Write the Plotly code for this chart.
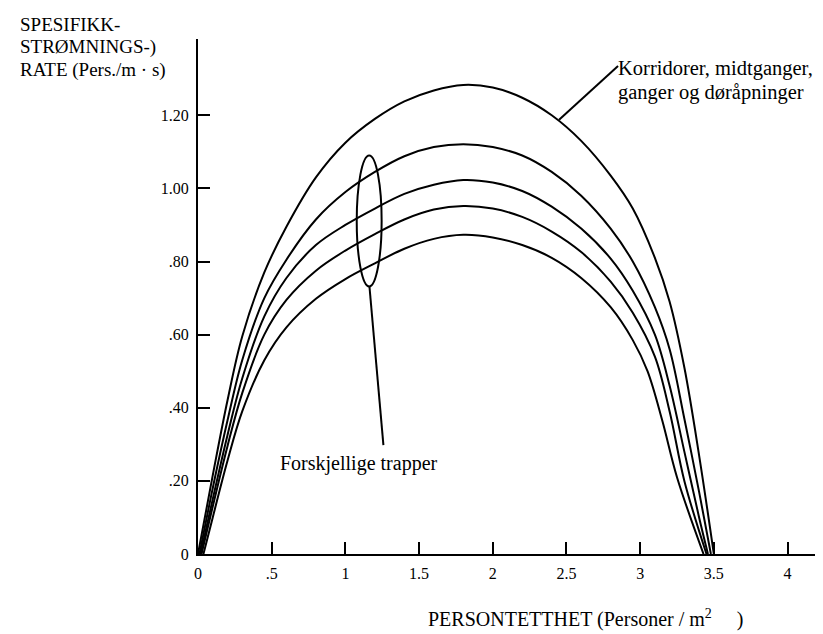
import plotly.graph_objects as go

# ---- tick labels ----
x_tick_vals = [0, 0.5, 1, 1.5, 2, 2.5, 3, 3.5, 4]
x_tick_text = ["0", ".5", "1", "1.5", "2", "2.5", "3", "3.5", "4"]
y_tick_vals = [0, 0.2, 0.4, 0.6, 0.8, 1.0, 1.2]
y_tick_text = ["0", ".20", ".40", ".60", ".80", "1.00", "1.20"]

# ---- curves (density persons/m2 -> specific flow pers/m.s) ----
corridor_x = [0.0, 0.1, 0.2, 0.3, 0.45, 0.6, 0.8, 1.0, 1.2, 1.4, 1.6, 1.8, 2.0, 2.2, 2.4, 2.6, 2.8, 2.95, 3.1, 3.2, 3.3, 3.4, 3.5]
corridor_y = [0.0, 0.215, 0.42, 0.595, 0.77, 0.895, 1.03, 1.125, 1.19, 1.238, 1.268, 1.283, 1.276, 1.248, 1.2, 1.13, 1.035, 0.945, 0.81, 0.69, 0.51, 0.27, 0.0]

stair1_x = [0.01, 0.1, 0.2, 0.3, 0.45, 0.6, 0.8, 1.0, 1.2, 1.4, 1.6, 1.8, 2.0, 2.2, 2.4, 2.6, 2.8, 2.95, 3.1, 3.2, 3.3, 3.4, 3.48]
stair1_y = [0.0, 0.18, 0.365, 0.53, 0.70, 0.805, 0.915, 0.99, 1.045, 1.088, 1.113, 1.121, 1.113, 1.09, 1.045, 0.98, 0.89, 0.80, 0.675, 0.56, 0.37, 0.17, 0.0]

stair2_x = [0.017, 0.1, 0.2, 0.3, 0.45, 0.6, 0.8, 1.0, 1.2, 1.4, 1.6, 1.8, 2.0, 2.2, 2.4, 2.6, 2.8, 2.95, 3.1, 3.2, 3.3, 3.4, 3.46]
stair2_y = [0.0, 0.15, 0.325, 0.48, 0.65, 0.755, 0.845, 0.90, 0.945, 0.985, 1.01, 1.023, 1.016, 0.993, 0.95, 0.89, 0.808, 0.72, 0.60, 0.46, 0.28, 0.10, 0.0]

stair3_x = [0.024, 0.1, 0.2, 0.3, 0.45, 0.6, 0.8, 1.0, 1.2, 1.4, 1.6, 1.8, 2.0, 2.2, 2.4, 2.6, 2.8, 2.95, 3.1, 3.2, 3.3, 3.45]
stair3_y = [0.0, 0.13, 0.295, 0.44, 0.60, 0.695, 0.775, 0.83, 0.875, 0.915, 0.942, 0.952, 0.945, 0.922, 0.882, 0.826, 0.745, 0.66, 0.54, 0.39, 0.20, 0.0]

stair4_x = [0.037, 0.1, 0.2, 0.3, 0.45, 0.6, 0.8, 1.0, 1.2, 1.4, 1.6, 1.8, 2.0, 2.2, 2.4, 2.6, 2.8, 2.95, 3.05, 3.15, 3.25, 3.43]
stair4_y = [0.0, 0.10, 0.255, 0.39, 0.53, 0.62, 0.698, 0.752, 0.795, 0.835, 0.862, 0.873, 0.866, 0.845, 0.81, 0.755, 0.675, 0.585, 0.50, 0.365, 0.21, 0.0]

series = [
    (corridor_x, corridor_y),
    (stair1_x, stair1_y),
    (stair2_x, stair2_y),
    (stair3_x, stair3_y),
    (stair4_x, stair4_y),
]

FONT = "Liberation Serif, Times New Roman, serif"

fig = go.Figure()
for xs, ys in series:
    fig.add_trace(go.Scatter(
        x=xs, y=ys, mode="lines",
        line=dict(color="black", width=2, shape="spline", smoothing=1.0),
        showlegend=False, hoverinfo="skip",
    ))

# plot-area geometry (pixels)
L, R, T, B = 189.5, 820, 31, 546
W, H = 823, 634

def px(xp, yp):
    return (xp - L) / (R - L), (B - yp) / (B - T)

annotations = []
# y-axis title (three lines)
for text, yp in [("SPESIFIKK-", 16), ("STRØMNINGS-)", 39), ("RATE (Pers./m · s)", 62)]:
    ax, ay = px(9, yp)
    annotations.append(dict(text=text, x=ax, y=ay, xref="paper", yref="paper",
                            xanchor="left", yanchor="middle", showarrow=False,
                            font=dict(family=FONT, size=19, color="black")))
# x-axis title
ax, ay = px(578, 610)
annotations.append(dict(text="PERSONTETTHET (Personer / m<sup>2</sup>\u00a0\u00a0\u00a0\u00a0\u00a0)",
                        x=ax, y=ay, xref="paper", yref="paper",
                        xanchor="center", yanchor="middle", showarrow=False,
                        font=dict(family=FONT, size=20, color="black")))
# curve labels
for text, yp in [("Korridorer, midtganger,", 60), ("ganger og døråpninger", 85)]:
    ax, ay = px(608, yp)
    annotations.append(dict(text=text, x=ax, y=ay, xref="paper", yref="paper",
                            xanchor="left", yanchor="middle", showarrow=False,
                            font=dict(family=FONT, size=20.5, color="black")))
ax, ay = px(351, 455)
annotations.append(dict(text="Forskjellige trapper", x=ax, y=ay, xref="paper", yref="paper",
                        xanchor="center", yanchor="middle", showarrow=False,
                        font=dict(family=FONT, size=20, color="black")))

shapes = [
    dict(type="circle", xref="x", yref="y", x0=1.077, x1=1.246, y0=0.732, y1=1.090,
         line=dict(color="black", width=2)),
    dict(type="line", xref="x", yref="y", x0=1.163, y0=0.733, x1=1.258, y1=0.298,
         line=dict(color="black", width=2)),
    dict(type="line", xref="x", yref="y", x0=2.450, y0=1.188, x1=2.850, y1=1.335,
         line=dict(color="black", width=2)),
]

fig.update_layout(
    width=W, height=H,
    margin=dict(l=L, r=W - R, t=T, b=H - B, pad=0),
    plot_bgcolor="white", paper_bgcolor="white",
    font=dict(family=FONT, color="black"),
    annotations=annotations, shapes=shapes,
    xaxis=dict(range=[0, (R - L) / 147.5], showline=True, linecolor="black", linewidth=2,
               ticks="inside", ticklen=12, tickwidth=2, tickcolor="black",
               tickvals=x_tick_vals, ticktext=x_tick_text, showgrid=False, zeroline=False,
               tickfont=dict(family=FONT, size=16, color="black"), ticklabelstandoff=4),
    yaxis=dict(range=[0, (B - T) / 365.6], showline=True, linecolor="black", linewidth=2,
               ticks="inside", ticklen=12, tickwidth=2, tickcolor="black",
               tickvals=y_tick_vals, ticktext=y_tick_text, showgrid=False, zeroline=False,
               tickfont=dict(family=FONT, size=16, color="black"), ticklabelstandoff=4),
)

fig.write_html("out.html")
